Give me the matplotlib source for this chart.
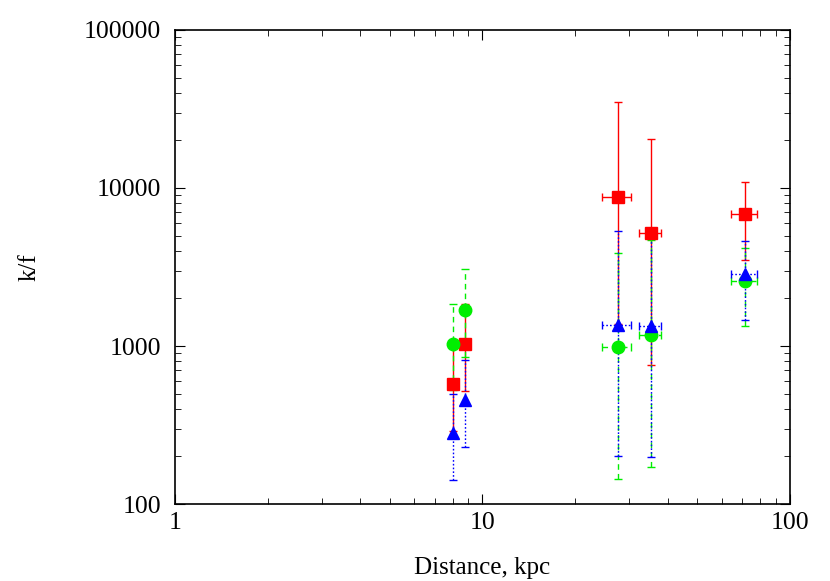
import matplotlib
matplotlib.use("Agg")
import matplotlib.pyplot as plt
import numpy as np

plt.rcParams['font.family'] = ['Liberation Serif', 'DejaVu Serif']

# distances, kpc
dist = np.array([8.0, 8.75, 27.5, 35.2, 71.3])
dist_err = np.array([0.0, 0.0, 3.0, 3.0, 7.0])

# red squares
red_y = np.array([577, 1030, 8800, 5200, 6800])
red_lo = np.array([290, 521, 1380, 761, 3510])
red_hi = np.array([1030, 1848, 35000, 20500, 10900])

# green circles
green_y = np.array([1030, 1683, 980, 1168, 2570])
green_lo = np.array([528, 852, 143, 172, 1346])
green_hi = np.array([1848, 3050, 3850, 4677, 4143])

# blue triangles
blue_y = np.array([281, 457, 1366, 1346, 2876])
blue_lo = np.array([142, 229, 200, 197, 1469])
blue_hi = np.array([496, 820, 5334, 5210, 4610])

fig = plt.figure(figsize=(8.3, 5.81), dpi=100)
ax = fig.add_axes([0.2108, 0.1325, 0.7410, 0.8159])

series = [
    (red_y, red_lo, red_hi, "#ff0000", "s", 8.5, "-"),
    (green_y, green_lo, green_hi, "#00ee00", "o", 9, (0, (4, 3))),
    (blue_y, blue_lo, blue_hi, "#0000ff", "^", 8, (0, (1.2, 1.5))),
]

for y, lo, hi, col, mk, ms, ls in series:
    yerr = np.vstack([y - lo, hi - y])
    eb = ax.errorbar(dist, y, xerr=dist_err, yerr=yerr, fmt=mk, color=col,
                     ms=ms, mec=col, ecolor=col, elinewidth=1, capsize=3,
                     capthick=1)
    for lc in eb[2]:
        lc.set_linestyle(ls)

ax.set_xscale("log")
ax.set_yscale("log")
ax.set_xlim(1, 100)
ax.set_ylim(100, 100000)

ax.set_xticks([1, 10, 100])
ax.set_xticklabels(["1", "10", "100"])
ax.set_yticks([100, 1000, 10000, 100000])
ax.set_yticklabels(["100", "1000", "10000", "100000"])

ax.tick_params(which="both", direction="in", top=True, right=True,
               labelsize=18.5)
ax.tick_params(which="major", length=7)
ax.tick_params(axis="x", which="major", pad=6)
ax.tick_params(axis="y", which="major", pad=10)
ax.tick_params(which="minor", length=4)
for s in ax.spines.values():
    s.set_linewidth(1.2)

ax.set_xlabel("Distance, kpc", fontsize=18, labelpad=16)
ax.set_ylabel("k/f", fontsize=18, labelpad=31)

fig.savefig("out.png", dpi=100)
